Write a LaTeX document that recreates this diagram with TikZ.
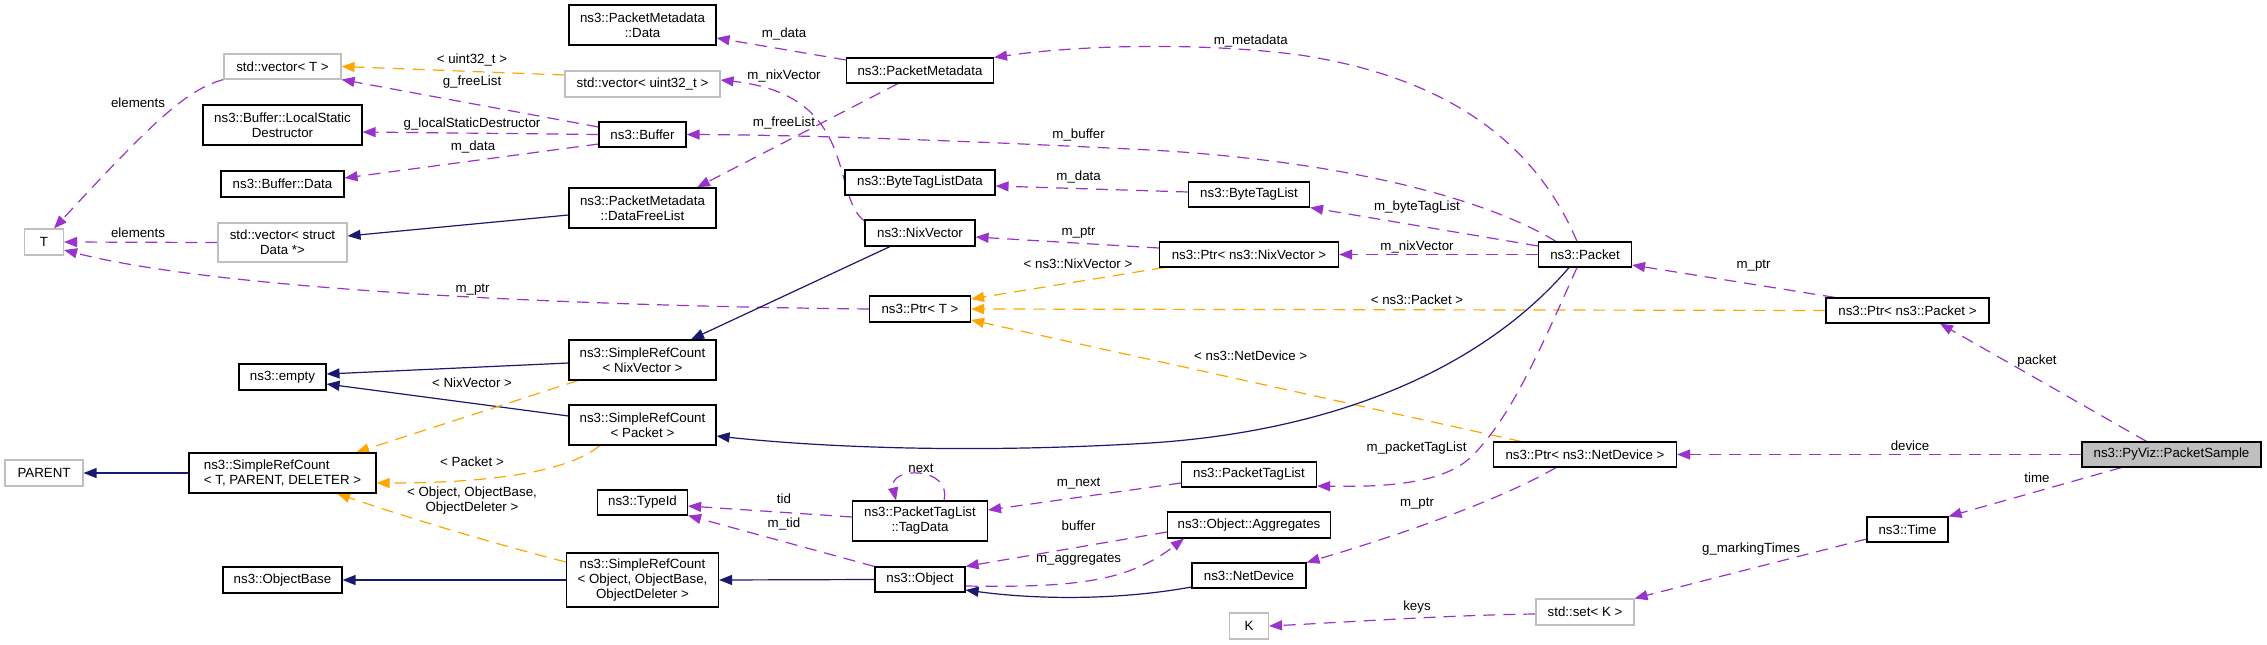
\documentclass[tikz,border=0pt]{standalone}
\usepackage{fontspec}
\setmainfont{Liberation Sans}
\usetikzlibrary{arrows.meta}
\definecolor{cMem}{HTML}{9A32CD}
\definecolor{cTpl}{HTML}{FFA500}
\definecolor{cInh}{HTML}{191970}
\definecolor{cGray}{HTML}{BFBFBF}
\pgfdeclarelayer{bg}
\pgfsetlayers{bg,main}
\tikzset{
  box/.style={draw=black, line width=1.1pt, fill=white, inner sep=0pt, align=center, font=\fontsize{13.3}{15}\selectfont},
  ext/.style={box, draw=cGray},
  memE/.style={draw=cMem, line width=1.2pt, dash pattern=on 12pt off 8pt, -{Triangle[length=13pt,width=10pt]}},
  tplE/.style={memE, draw=cTpl},
  inhE/.style={draw=cInh, line width=1.2pt, -{Triangle[length=13pt,width=10pt]}},
  lbl/.style={inner sep=0pt, font=\fontsize{13.3}{15}\selectfont, text height=9.5pt, text depth=2.5pt},
  lbl2/.style={inner sep=0pt, font=\fontsize{13.3}{15}\selectfont, align=center}
}
\begin{document}
\begin{tikzpicture}[x=1pt,y=-1pt]
\useasboundingbox (0,0) rectangle (2267,645);
% nodes
\node[ext, minimum width=39pt, minimum height=26pt] (T) at (44,242) {T};
\node[ext, minimum width=117pt, minimum height=25pt] (vecT) at (282.5,66.5) {std::vector< T >};
\node[box, minimum width=159pt, minimum height=40pt] (lsd) at (282.5,125) {ns3::Buffer::LocalStatic\\Destructor};
\node[box, minimum width=123pt, minimum height=26pt] (bufdata) at (282.5,184) {ns3::Buffer::Data};
\node[ext, minimum width=129pt, minimum height=39pt] (vecData) at (282.5,242.5) {std::vector< struct\\Data *>};
\node[ext, minimum width=78pt, minimum height=26pt] (PARENT) at (44,473) {PARENT};
\node[box, minimum width=87pt, minimum height=26pt] (empty) at (282.5,377) {ns3::empty};
\node[box, minimum width=187pt, minimum height=40pt, align=left] (src) at (282.5,473) {ns3::SimpleRefCount\\< T, PARENT, DELETER >};
\node[box, minimum width=119pt, minimum height=26pt] (objbase) at (282.5,580) {ns3::ObjectBase};
\node[box, minimum width=147pt, minimum height=40pt] (pmdata) at (642.5,25) {ns3::PacketMetadata\\::Data};
\node[ext, minimum width=155pt, minimum height=26pt] (vecU) at (642.5,84) {std::vector< uint32\_t >};
\node[box, minimum width=87pt, minimum height=25pt] (buffer) at (642.5,134.5) {ns3::Buffer};
\node[box, minimum width=147pt, minimum height=40pt] (pmdfl) at (642.5,208) {ns3::PacketMetadata\\::DataFreeList};
\node[box, minimum width=147pt, minimum height=40pt] (srcnix) at (642.5,360) {ns3::SimpleRefCount\\< NixVector >};
\node[box, minimum width=147pt, minimum height=40pt] (srcpkt) at (642.5,425) {ns3::SimpleRefCount\\< Packet >};
\node[box, minimum width=90pt, minimum height=25pt] (typeid) at (642.5,502.5) {ns3::TypeId};
\node[box, minimum width=152pt, minimum height=54pt] (srcobj) at (642.5,580) {ns3::SimpleRefCount\\< Object, ObjectBase,\\ObjectDeleter >};
\node[box, minimum width=147pt, minimum height=25pt] (pm) at (920,70.5) {ns3::PacketMetadata};
\node[box, minimum width=150pt, minimum height=25pt] (btld) at (920,182.5) {ns3::ByteTagListData};
\node[box, minimum width=110pt, minimum height=26pt] (nix) at (920,233) {ns3::NixVector};
\node[box, minimum width=101pt, minimum height=26pt] (ptrT) at (920,309) {ns3::Ptr< T >};
\node[box, minimum width=135pt, minimum height=40pt] (tagdata) at (920,521) {ns3::PacketTagList\\::TagData};
\node[box, minimum width=90pt, minimum height=25pt] (object) at (920,579.5) {ns3::Object};
\node[box, minimum width=121pt, minimum height=25pt] (btl) at (1249,194.5) {ns3::ByteTagList};
\node[box, minimum width=179pt, minimum height=25pt] (ptrnix) at (1249,254.5) {ns3::Ptr< ns3::NixVector >};
\node[box, minimum width=135pt, minimum height=25pt] (ptl) at (1249,474.5) {ns3::PacketTagList};
\node[box, minimum width=163pt, minimum height=26pt] (agg) at (1249,525) {ns3::Object::Aggregates};
\node[box, minimum width=114pt, minimum height=25pt] (netdev) at (1249,575.5) {ns3::NetDevice};
\node[ext, minimum width=39pt, minimum height=26pt] (K) at (1249,626) {K};
\node[box, minimum width=93pt, minimum height=25pt] (packet) at (1585,254.5) {ns3::Packet};
\node[box, minimum width=183pt, minimum height=25pt] (ptrnd) at (1585,454.5) {ns3::Ptr< ns3::NetDevice >};
\node[ext, minimum width=98pt, minimum height=26pt] (setK) at (1585,612) {std::set< K >};
\node[box, minimum width=163pt, minimum height=25pt] (ptrpkt) at (1907.5,310.5) {ns3::Ptr< ns3::Packet >};
\node[box, minimum width=81pt, minimum height=25pt] (time) at (1907.5,529.5) {ns3::Time};
\node[box, fill=cGray, minimum width=179pt, minimum height=25pt] (sample) at (2171.5,454.5) {ns3::PyViz::PacketSample};
% edges
\begin{pgfonlayer}{bg}
\fill[white] (0,0) rectangle (2267,645);
\draw[memE] (vecT.south west) .. controls (185,90) and (150,125) .. ([xshift=10pt]T.north);
\draw[memE] (vecData.west) -- (T.east);
\draw[memE] (ptrT.west) .. controls (500,305) and (200,285) .. ([yshift=-8pt]T.east);
\draw[memE] ([yshift=7.5pt]buffer.west) -- (vecT.south east);
\draw[memE] (buffer.west) -- ([yshift=-7pt]lsd.east);
\draw[memE] ([yshift=-9.5pt]buffer.west) -- ([yshift=6pt]bufdata.east);
\draw[tplE] ([yshift=9pt]vecU.west) -- (vecT.east);
\draw[inhE] ([yshift=-7pt]pmdfl.west) -- ([yshift=6.5pt]vecData.east);
\draw[inhE] ([yshift=-3pt]srcnix.west) -- ([yshift=3pt]empty.east);
\draw[inhE] ([yshift=9pt]srcpkt.west) -- ([yshift=-7pt]empty.east);
\draw[tplE] ([xshift=-64.5pt]srcnix.south) -- ([xshift=73.5pt]src.north);
\draw[tplE] ([xshift=-42.5pt]srcpkt.south) .. controls (570,470) and (500,483) .. ([yshift=-10pt]src.east);
\draw[tplE] ([yshift=18pt]srcobj.west) .. controls (480,540) and (400,515) .. ([xshift=54.5pt]src.south);
\draw[inhE] (src.west) -- (PARENT.east);
\draw[inhE] (srcobj.west) -- (objbase.east);
\draw[memE] ([yshift=10.5pt]pm.west) -- ([yshift=-13pt]pmdata.east);
\draw[memE] ([xshift=-22pt]pm.south) -- ([xshift=54.5pt]pmdfl.north);
\draw[memE] ([yshift=12pt]nix.west) .. controls (830,195) and (860,95) .. ([yshift=4pt]vecU.east);
\draw[memE] ([xshift=-8pt]packet.north) .. controls (1530,130) and (1430,75) .. (1300,55) .. controls (1200,42) and (1080,45) .. (pm.north east);
\draw[memE] ([xshift=-29pt]packet.north) .. controls (1480,195) and (1330,160) .. (1150,150) .. controls (950,140) and (800,135) .. (buffer.east);
\draw[memE] ([yshift=2.5pt]btl.west) -- ([yshift=-3.5pt]btld.east);
\draw[memE] ([yshift=8.5pt]packet.west) -- (btl.south east);
\draw[memE] (packet.west) -- (ptrnix.east);
\draw[memE] ([yshift=6.5pt]ptrnix.west) -- ([yshift=-4pt]nix.east);
\draw[tplE] ([xshift=-85pt]ptrnix.south) -- ([yshift=10pt]ptrT.east);
\draw[tplE] (ptrpkt.west) -- (ptrT.east);
\draw[tplE] ([xshift=-64pt]ptrnd.north) -- ([yshift=-11pt]ptrT.east);
\draw[memE] ([xshift=-8pt]packet.south) .. controls (1540,350) and (1510,420) .. (1470,458) .. controls (1440,485) and (1380,487) .. ([yshift=-11.5pt]ptl.east);
\draw[memE] ([xshift=-29pt]ptrnd.south) .. controls (1500,500) and (1400,535) .. (netdev.north east);
\draw[memE] (sample.west) -- (ptrnd.east);
\draw[memE] ([xshift=-25pt]sample.north) -- ([xshift=32.5pt]ptrpkt.south);
\draw[memE] ([xshift=-50pt]sample.south) -- (time.north east);
\draw[memE] ([yshift=-9.5pt]time.west) -- (setK.north east);
\draw[memE] ([yshift=-2pt]setK.west) .. controls (1450,615) and (1350,622) .. (K.east);
\draw[inhE] ([xshift=-16pt]packet.south) .. controls (1490,360) and (1350,430) .. (1150,443) .. controls (950,455) and (800,445) .. ([yshift=-11pt]srcpkt.east);
\draw[inhE] ([xshift=-30pt]nix.south) -- ([xshift=48.5pt]srcnix.north);
\draw[memE] ([yshift=-8.5pt]ptl.west) -- ([yshift=11pt]tagdata.east);
\draw[memE] ([xshift=24pt]tagdata.north) .. controls (952,466) and (888,466) .. ([xshift=-24pt]tagdata.north);
\draw[memE] ([yshift=4pt]tagdata.west) -- ([yshift=-3.5pt]typeid.east);
\draw[memE] (object.north west) -- (typeid.south east);
\draw[memE] ([yshift=-7pt]agg.west) -- (object.north east);
\draw[memE] ([yshift=-6.5pt]object.east) .. controls (1080,588) and (1130,580) .. ([xshift=-65pt]agg.south);
\draw[inhE] ([yshift=-11.5pt]netdev.west) .. controls (1120,600) and (1040,600) .. ([yshift=-10.5pt]object.east);
\draw[inhE] (object.west) -- (srcobj.east);
\draw[memE] ([xshift=-72.5pt]ptrpkt.north) -- ([yshift=-10.5pt]packet.east);
\end{pgfonlayer}
% labels
\node[lbl] (l1) at (138,104) {elements};
\node[lbl] (l2) at (138,234) {elements};
\node[lbl] (l3) at (472.6,289) {m\_ptr};
\node[lbl] (l4) at (472,60) {< uint32\_t >};
\node[lbl] (l5) at (472,82) {g\_freeList};
\node[lbl] (l6) at (472,124) {g\_localStaticDestructor};
\node[lbl] (l7) at (473,147) {m\_data};
\node[lbl] (l8) at (472,384) {< NixVector >};
\node[lbl] (l9) at (472,463) {< Packet >};
\node[lbl2] (l10) at (472,501) {< Object, ObjectBase,\\ObjectDeleter >};
\node[lbl] (l11) at (784,34) {m\_data};
\node[lbl] (l12) at (784,76) {m\_nixVector};
\node[lbl] (l13) at (784,123) {m\_freeList};
\node[lbl] (l14) at (1078.6,135) {m\_buffer};
\node[lbl] (l15) at (1078.6,177) {m\_data};
\node[lbl] (l16) at (1078.6,232) {m\_ptr};
\node[lbl] (l17) at (1078,265) {< ns3::NixVector >};
\node[lbl] (l18) at (1250.7,41) {m\_metadata};
\node[lbl] (l19) at (1417,207) {m\_byteTagList};
\node[lbl] (l20) at (1417,247) {m\_nixVector};
\node[lbl] (l21) at (1753.6,265) {m\_ptr};
\node[lbl] (l22) at (1417,301) {< ns3::Packet >};
\node[lbl] (l23) at (1250.7,357) {< ns3::NetDevice >};
\node[lbl] (l24) at (1416.6,448) {m\_packetTagList};
\node[lbl] (l25) at (1417,503) {m\_ptr};
\node[lbl] (l26) at (1417,607) {keys};
\node[lbl] (l27) at (1751,549) {g\_markingTimes};
\node[lbl] (l28) at (2037,361) {packet};
\node[lbl] (l29) at (1910,447) {device};
\node[lbl] (l30) at (2037,479) {time};
\node[lbl] (l31) at (921,469) {next};
\node[lbl] (l32) at (784,500) {tid};
\node[lbl] (l33) at (784,524) {m\_tid};
\node[lbl] (l34) at (1078.6,483) {m\_next};
\node[lbl] (l35) at (1078.6,527) {buffer};
\node[lbl] (l36) at (1078.6,559) {m\_aggregates};
\end{tikzpicture}
\end{document}
